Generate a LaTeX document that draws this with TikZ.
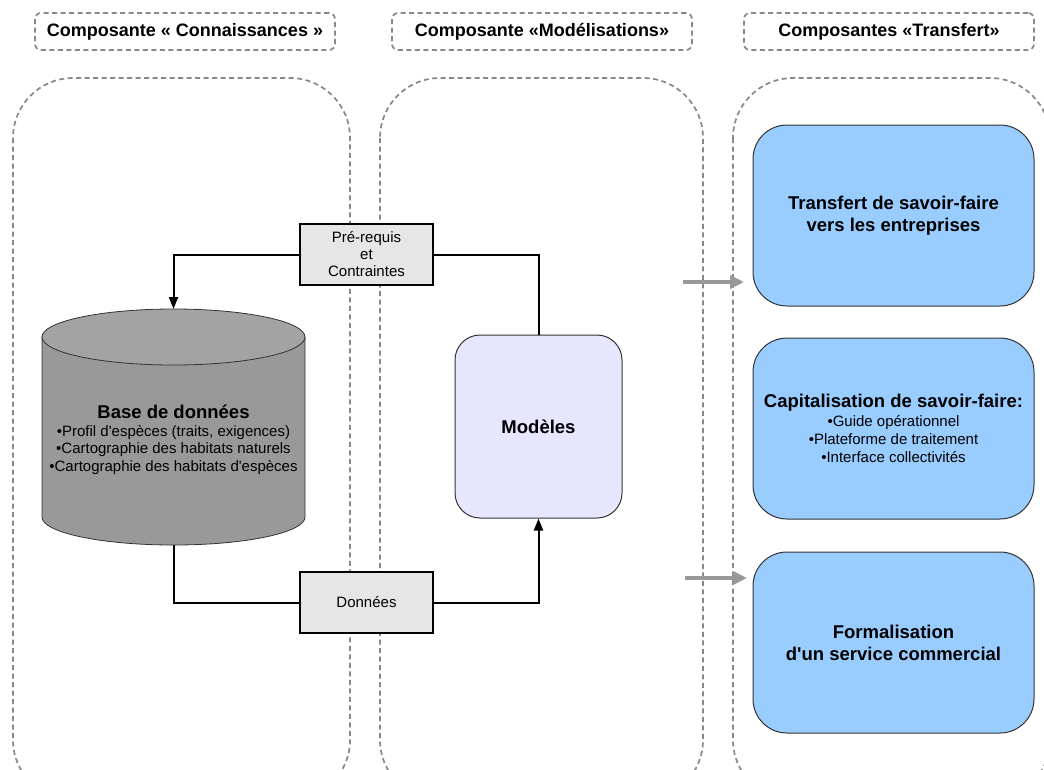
\documentclass[tikz,border=0pt]{standalone}
\usepackage{fontspec}
\setmainfont{Liberation Sans}[Ligatures=TeXOff]
\usetikzlibrary{arrows.meta}

\definecolor{dashgray}{HTML}{888888}
\definecolor{taggray}{HTML}{E6E6E6}
\definecolor{skyblue}{HTML}{99CCFF}
\definecolor{lavender}{HTML}{E6E6FF}
\definecolor{boxline}{HTML}{333333}
\definecolor{arrowgray}{HTML}{999999}
\definecolor{dbbody}{HTML}{999999}
\definecolor{dbtopfill}{HTML}{A3A3A3}

\begin{document}
\begin{tikzpicture}[x=1pt,y=-1pt,
  frame/.style={draw=dashgray, line width=1.7pt, dash pattern=on 5pt off 3.5pt},
  heading/.style={frame, rounded corners=6pt, minimum width=#1, minimum height=37pt,
    inner sep=0pt, font=\fontsize{18}{20}\selectfont\bfseries},
  conn/.style={line width=2pt, draw=black},
  tip/.style={-{Triangle[length=12pt,width=9pt]}},
  tag/.style={draw=black, line width=2.5pt, fill=taggray, minimum width=133pt,
    minimum height=61pt, inner sep=0pt, align=center, font=\fontsize{15}{17}\selectfont},
  goal/.style={draw=boxline, line width=1pt, fill=skyblue, rounded corners=34pt,
    minimum width=281pt, minimum height=181pt, inner sep=0pt, align=center,
    font=\fontsize{18.5}{22}\selectfont\bfseries},
  push/.style={draw=arrowgray, line width=4pt, -{Triangle[length=14pt,width=13pt]}},
]
\useasboundingbox (0,0) rectangle (1044,769);
\clip (0,0) rectangle (1044,769);

% column frames
\draw[frame, rounded corners=60pt] (13,78) rectangle (350,800);
\draw[frame, rounded corners=60pt] (380,78) rectangle (703,800);
\draw[frame, rounded corners=60pt] (733,78) rectangle (1050,800);

% column headings
\node[heading=300pt] (h1) at (185,31.5) {Composante « Connaissances »};
\node[heading=300pt] (h2) at (542,31.5) {Composante «Modélisations»};
\node[heading=290pt] (h3) at (889,31.5) {Composantes «Transfert»};

% database cylinder
\filldraw[fill=dbbody, draw=boxline, line width=0.8pt]
  (42,337) -- (42,517)
  arc[start angle=180, end angle=360, x radius=131.5pt, y radius=28pt]
  -- (305,337) -- cycle;
\filldraw[fill=dbtopfill, draw=boxline, line width=0.8pt]
  (173.5,337) ellipse[x radius=131.5pt, y radius=28pt];
\coordinate (dbtop) at (173.5,309);
\coordinate (dbbot) at (173.5,545);
\node[align=center, font=\fontsize{15}{17.5}\selectfont] (db) at (173.5,440)
  {{\fontsize{18.5}{20}\selectfont\bfseries Base de données}\\
   •Profil d'espèces (traits, exigences)\\
   •Cartographie des habitats naturels\\
   •Cartographie des habitats d'espèces};

% exchange labels
\node[tag] (pre) at (366.5,254.5) {Pré-requis\\et\\Contraintes};
\node[tag] (don) at (366.5,602.5) {Données};

% model box
\node[draw=boxline, line width=1pt, fill=lavender, rounded corners=25pt,
  minimum width=167pt, minimum height=183pt, inner sep=0pt,
  font=\fontsize{18.5}{22}\selectfont\bfseries] (mod) at (538.5,426.5) {Modèles};

% transfer boxes
\node[goal] (g1) at (893.5,215.5) {Transfert de savoir-faire\\vers les entreprises};
\node[goal] (g2) at (893.5,428.5)
  {Capitalisation de savoir-faire:\\[-3pt]
   {\fontsize{15}{17}\selectfont\mdseries •Guide opérationnel}\\[-4pt]
   {\fontsize{15}{17}\selectfont\mdseries •Plateforme de traitement}\\[-4pt]
   {\fontsize{15}{17}\selectfont\mdseries •Interface collectivités}};
\node[goal] (g3) at (893.5,642.5) {Formalisation\\d'un service commercial};

% data flow loop
\draw[conn, tip] (pre.west) -| (dbtop);
\draw[conn] (pre.east) -| (mod.north);
\draw[conn] (dbbot) |- (don.west);
\draw[conn, tip] (don.east) -| (mod.south);

% transfer arrows
\coordinate (p1s) at (683,282);
\coordinate (p1e) at (744,282);
\coordinate (p2s) at (685,578);
\coordinate (p2e) at (747,578);
\draw[push] (p1s) -- (p1e);
\draw[push] (p2s) -- (p2e);
\end{tikzpicture}
\end{document}
